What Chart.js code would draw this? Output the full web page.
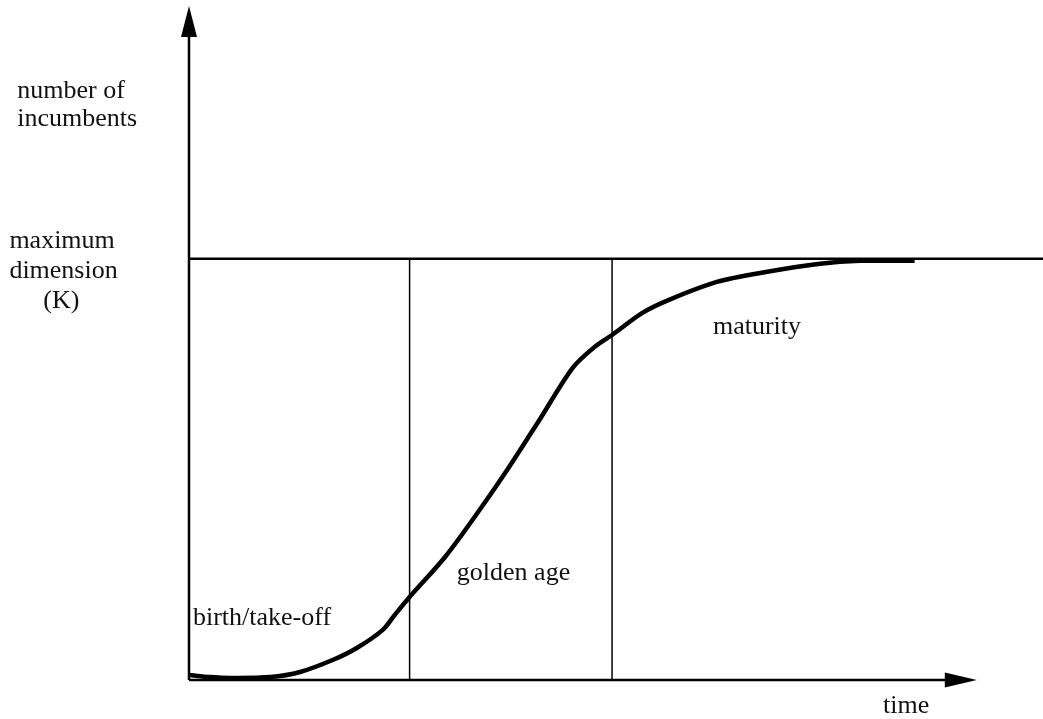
<!DOCTYPE html>
<html>
<head>
<meta charset="utf-8">
<script src="https://cdn.jsdelivr.net/npm/chart.js@4"></script>
<style>
  body { margin: 0; background: #fff; }
  canvas { display: block; }
</style>
</head>
<body>
<canvas id="lifecycle" width="1043" height="719"></canvas>
<script>
// industry life cycle: number of incumbents over time (K = 100)
const timeValues = [0, 2.7, 5.2, 10.3, 14.1, 18.3, 21.3, 24.6, 26.1, 28.0, 32.5, 36.9, 40.4, 44.5, 48.7, 51.5, 53.7, 57.6, 61.0, 67.0, 73.4, 80.1, 85.2, 92.1];
const incumbentValues = [1.2, 0.7, 0.5, 0.7, 1.9, 4.8, 7.6, 11.9, 15.4, 19.7, 29.2, 40.4, 49.9, 61.8, 74.1, 79.1, 81.9, 87.2, 90.3, 94.5, 96.9, 98.8, 99.5, 99.5];
const maxDimension = 100;
const phaseBounds = [28.0, 53.7];
const phaseLabels = ['birth/take-off', 'golden age', 'maturity'];

const xMax = 108.4;
const yMax = 160;
const fontSpec = '26px "Liberation Serif", "Times New Roman", serif';

// text placed in data units
const notes = [
  { text: 'number of', x: -21.8, y: 138.2 },
  { text: 'incumbents', x: -21.8, y: 131.4 },
  { text: 'maximum', x: -22.8, y: 102.6 },
  { text: 'dimension', x: -22.8, y: 95.5 },
  { text: '(K)', x: -18.5, y: 88.4 },
  { text: phaseLabels[0], x: 0.5, y: 13.1 },
  { text: phaseLabels[1], x: 34.0, y: 23.8 },
  { text: phaseLabels[2], x: 66.5, y: 82.2 },
  { text: 'time', x: 88.1, y: -7.8 }
];

const curve = timeValues.map((t, i) => ({ x: t, y: incumbentValues[i] }));

const axesPlugin = {
  id: 'axesPlugin',
  afterDatasetsDraw(chart) {
    const ctx = chart.ctx;
    const xs = chart.scales.x, ys = chart.scales.y;
    const x0 = xs.getPixelForValue(0), y0 = ys.getPixelForValue(0);
    const xEnd = xs.getPixelForValue(100);
    const yEnd = ys.getPixelForValue(yMax);
    ctx.save();
    ctx.strokeStyle = '#000';
    ctx.fillStyle = '#000';
    ctx.lineWidth = 2.5;
    // axis lines
    ctx.beginPath();
    ctx.moveTo(x0, y0);
    ctx.lineTo(xEnd - 20, y0);
    ctx.moveTo(x0, y0);
    ctx.lineTo(x0, yEnd + 20);
    ctx.stroke();
    // arrow heads
    ctx.beginPath();
    ctx.moveTo(xEnd, y0);
    ctx.lineTo(xEnd - 32, y0 - 7.5);
    ctx.lineTo(xEnd - 32, y0 + 7.5);
    ctx.closePath();
    ctx.fill();
    ctx.beginPath();
    ctx.moveTo(x0, yEnd);
    ctx.lineTo(x0 - 8, yEnd + 31);
    ctx.lineTo(x0 + 8, yEnd + 31);
    ctx.closePath();
    ctx.fill();
    // labels
    ctx.font = fontSpec;
    ctx.fillStyle = '#111';
    ctx.textAlign = 'left';
    ctx.textBaseline = 'alphabetic';
    notes.forEach(n => {
      ctx.fillText(n.text, xs.getPixelForValue(n.x), ys.getPixelForValue(n.y));
    });
    ctx.restore();
  }
};

new Chart(document.getElementById('lifecycle'), {
  type: 'line',
  data: {
    datasets: [
      {
        label: 'incumbents',
        data: curve,
        borderColor: '#000',
        borderWidth: 4.5,
        borderJoinStyle: 'round',
        tension: 0.3,
        pointRadius: 0,
        clip: false
      },
      {
        label: 'K',
        data: [{ x: 0, y: maxDimension }, { x: xMax, y: maxDimension }],
        borderColor: '#000',
        borderWidth: 2.5,
        pointRadius: 0,
        clip: false
      },
      {
        label: 'phase 1',
        data: [{ x: phaseBounds[0], y: 0 }, { x: phaseBounds[0], y: maxDimension }],
        borderColor: '#000',
        borderWidth: 1.5,
        pointRadius: 0,
        clip: false
      },
      {
        label: 'phase 2',
        data: [{ x: phaseBounds[1], y: 0 }, { x: phaseBounds[1], y: maxDimension }],
        borderColor: '#000',
        borderWidth: 1.5,
        pointRadius: 0,
        clip: false
      }
    ]
  },
  options: {
    responsive: false,
    animation: false,
    layout: {
      padding: { left: 189, right: 0, top: 6, bottom: 39 }
    },
    scales: {
      x: { type: 'linear', min: 0, max: xMax, display: false },
      y: { type: 'linear', min: 0, max: yMax, display: false }
    },
    plugins: {
      legend: { display: false },
      tooltip: { enabled: false },
      title: { display: false }
    }
  },
  plugins: [axesPlugin]
});
</script>
</body>
</html>
